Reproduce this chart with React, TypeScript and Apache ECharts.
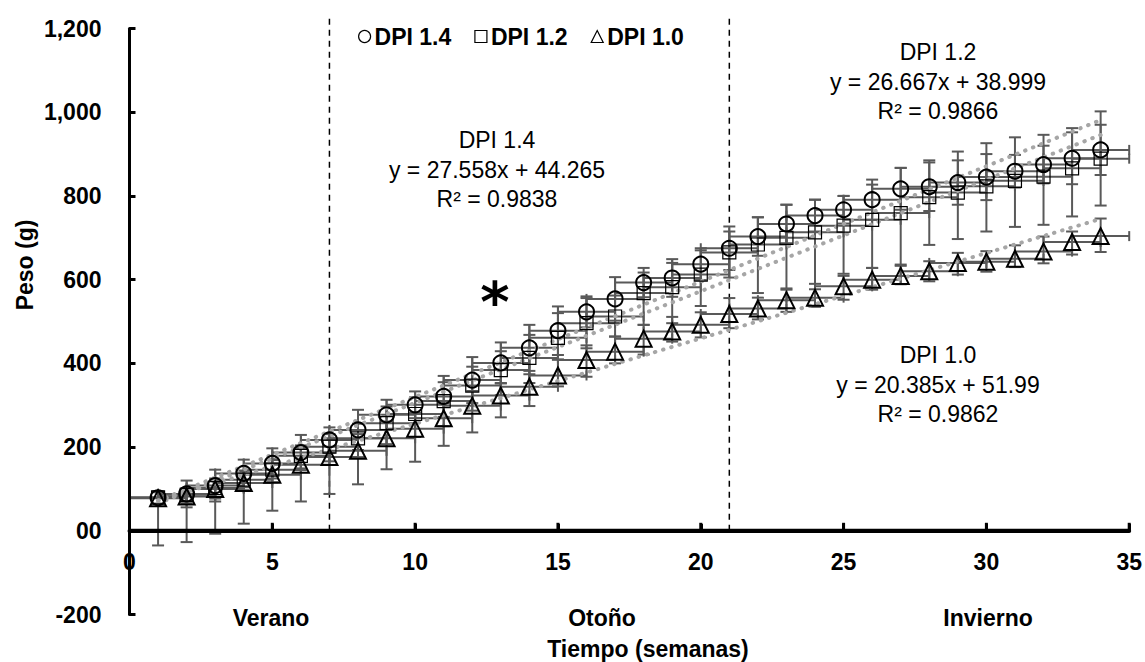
import React, { useEffect, useRef } from "react";
import * as echarts from "echarts";

// ---------- data ----------
const weeks = [1, 2, 3, 4, 5, 6, 7, 8, 9, 10, 11, 12, 13, 14, 15, 16, 17, 18, 19, 20, 21, 22, 23, 24, 25, 26, 27, 28, 29, 30, 31, 32, 33, 34];

const dpi14 = [79, 88, 108, 137, 161, 187, 217, 241, 277, 301, 321, 360, 401, 437, 478, 523, 554, 593, 604, 637, 675, 703, 733, 753, 767, 791, 817, 822, 832, 845, 859, 875, 890, 910];
const dpi14ErrHi = [15, 32, 38, 33, 36, 42, 30, 48, 36, 32, 49, 55, 49, 55, 58, 37, 52, 35, 45, 38, 52, 46, 46, 38, 33, 48, 50, 58, 53, 55, 39, 45, 62, 60];
const dpi14ErrLo = [15, 32, 38, 33, 36, 42, 30, 48, 36, 32, 49, 55, 49, 55, 58, 37, 52, 35, 45, 38, 52, 46, 46, 38, 33, 48, 50, 58, 53, 55, 39, 45, 62, 60];

const dpi12 = [80, 86, 102, 122, 146, 179, 201, 221, 257, 279, 310, 347, 384, 413, 461, 496, 512, 568, 582, 612, 665, 684, 700, 713, 729, 743, 759, 797, 808, 823, 836, 846, 866, 889];
const dpi12ErrHi = [12, 15, 20, 20, 25, 25, 30, 35, 40, 40, 45, 45, 45, 55, 59, 60, 50, 49, 58, 58, 50, 65, 79, 78, 71, 84, 108, 88, 98, 103, 104, 100, 96, 113];
const dpi12ErrLo = [15, 20, 25, 25, 30, 30, 35, 45, 50, 55, 60, 60, 60, 60, 52, 60, 48, 76, 86, 75, 60, 116, 124, 123, 115, 115, 123, 114, 111, 108, 110, 115, 115, 112];

const dpi10 = [78, 82, 100, 114, 134, 158, 176, 191, 221, 244, 269, 299, 323, 344, 371, 408, 428, 459, 476, 492, 518, 531, 551, 557, 584, 600, 609, 620, 640, 643, 650, 667, 690, 704];
const dpi10ErrHi = [15, 20, 25, 30, 35, 40, 45, 40, 40, 38, 35, 35, 30, 30, 38, 35, 36, 33, 35, 30, 38, 26, 28, 20, 25, 28, 24, 24, 24, 25, 32, 36, 25, 42];
const dpi10ErrLo = [113, 109, 107, 97, 86, 88, 88, 80, 74, 79, 66, 64, 52, 46, 26, 40, 28, 38, 24, 30, 34, 26, 28, 22, 32, 24, 20, 24, 28, 24, 20, 28, 30, 38];

const weekErr = 1; // horizontal error (weeks)

const seriesNames = ["DPI 1.4", "DPI 1.2", "DPI 1.0"];
const trendSlopes = [27.558, 26.667, 20.385];
const trendIntercepts = [44.265, 38.999, 51.99];
const trendR2 = ["0.9838", "0.9866", "0.9862"];
const trendRange = [1, 34];

const seasonBounds = [7, 21];
const seasonSpan = [0, 1228];
const seasonNames = ["Verano", "Otoño", "Invierno"];

const yTicks = [-200, 0, 200, 400, 600, 800, 1000, 1200];
const xTicks = [0, 5, 10, 15, 20, 25, 30, 35];

// ---------- styles / layout ----------
const FONT = "'Liberation Sans', Arial, Helvetica, sans-serif";
const BAR = "#595959";
const GRID_TOP = 28.5;
const GRID_BOTTOM = 47.5;
const CHART_H = 662;

export default function App() {
  const ref = useRef<HTMLDivElement>(null);

  useEffect(() => {
    const chart = echarts.init(ref.current as HTMLDivElement, null, { renderer: "svg" });

    const groups = [
      { name: seriesNames[0], vals: dpi14, lo: dpi14ErrLo, hi: dpi14ErrHi, symbol: "circle", size: 15, bw: 2 },
      { name: seriesNames[1], vals: dpi12, lo: dpi12ErrLo, hi: dpi12ErrHi, symbol: "rect", size: 13, bw: 1.2 },
      { name: seriesNames[2], vals: dpi10, lo: dpi10ErrLo, hi: dpi10ErrHi, symbol: "triangle", size: 16, bw: 2 },
    ];

    const plotH = CHART_H - GRID_TOP - GRID_BOTTOM;
    const yMin = yTicks[0];
    const yMax = yTicks[yTicks.length - 1];
    const xMin = xTicks[0];
    const xMax = xTicks[xTicks.length - 1];
    const zeroOffset = -((0 - yMin) / (yMax - yMin)) * plotH;

    const series: any[] = [];

    seasonBounds.forEach((b, bi) => {
      series.push({
        type: "line",
        name: "season" + bi,
        z: 0,
        silent: true,
        clip: false,
        symbol: "none",
        showSymbol: false,
        data: seasonSpan.map((v) => [b, v]),
        lineStyle: { color: "#000", type: [6, 5], width: 1.5 },
      });
    });

    // x axis line drawn on y = 0 (drawn as a series so it sits at the data zero)
    series.push({
      type: "line",
      name: "xZeroLine",
      z: 6,
      silent: true,
      clip: false,
      symbol: "none",
      showSymbol: false,
      data: [[xMin, 0], [xMax, 0]],
      lineStyle: { color: "#000", width: 4, type: "solid", opacity: 1 },
    });
    series.push({
      type: "scatter",
      name: "xZeroTicks",
      z: 6,
      silent: true,
      clip: false,
      symbol: "rect",
      symbolSize: [3, 8],
      symbolOffset: [0, -4],
      data: xTicks.map((t) => [t, 0]),
      itemStyle: { color: "#000", opacity: 1 },
    });

    groups.forEach((g, gi) => {
      series.push({
        type: "custom",
        name: g.name + " err",
        z: 1,
        silent: true,
        data: weeks.map((w, i) => [w, g.vals[i], g.lo[i], g.hi[i], weekErr]),
        encode: { x: 0, y: 1 },
        renderItem: (params: any, api: any) => {
          const x = api.value(0);
          const y = api.value(1);
          const lo = api.value(2);
          const hi = api.value(3);
          const xe = api.value(4);
          const pLo = api.coord([x, y - lo]);
          const pHi = api.coord([x, y + hi]);
          const pL = api.coord([x - xe, y]);
          const pR = api.coord([x + xe, y]);
          const cw = 6;
          const ch = 5;
          const style = { stroke: BAR, lineWidth: 2, fill: null };
          return {
            type: "group",
            children: [
              { type: "line", shape: { x1: pLo[0], y1: pLo[1], x2: pHi[0], y2: pHi[1] }, style },
              { type: "line", shape: { x1: pLo[0] - cw, y1: pLo[1], x2: pLo[0] + cw, y2: pLo[1] }, style },
              { type: "line", shape: { x1: pHi[0] - cw, y1: pHi[1], x2: pHi[0] + cw, y2: pHi[1] }, style },
              { type: "line", shape: { x1: pL[0], y1: pL[1], x2: pR[0], y2: pR[1] }, style },
              { type: "line", shape: { x1: pL[0], y1: pL[1] - ch, x2: pL[0], y2: pL[1] + ch }, style },
              { type: "line", shape: { x1: pR[0], y1: pR[1] - ch, x2: pR[0], y2: pR[1] + ch }, style },
            ],
          };
        },
      });

      series.push({
        type: "line",
        name: g.name + " trend",
        z: 2,
        silent: true,
        showSymbol: false,
        symbol: "none",
        data: trendRange.map((x) => [x, trendSlopes[gi] * x + trendIntercepts[gi]]),
        lineStyle: { color: "#a6a6a6", width: 4, type: [0.5, 8], cap: "round" },
      });
    });

    groups.forEach((g) => {
      series.push({
        type: "scatter",
        name: g.name,
        z: 3,
        symbol: g.symbol,
        symbolSize: g.size,
        data: weeks.map((w, i) => [w, g.vals[i]]),
        itemStyle: { color: "rgba(0,0,0,0)", borderColor: "#000", borderWidth: g.bw, opacity: 1 },
      });
    });

    const annot = (x: number, y: number, lines: string[]) =>
      lines.map((t, i) => ({
        type: "text",
        x,
        y: y + i * 29.5,
        style: { text: t, fontSize: 23, fontFamily: FONT, fill: "#000", align: "center", verticalAlign: "middle" },
      }));

    const eq = (i: number) => [
      seriesNames[i],
      `y = ${trendSlopes[i]}x + ${trendIntercepts[i]}`,
      `R² = ${trendR2[i]}`,
    ];

    const bold = { fontSize: 23, fontWeight: "bold", fontFamily: FONT, fill: "#000", align: "center", verticalAlign: "middle" };

    const option: any = {
      animation: false,
      backgroundColor: "#fff",
      grid: { left: 129.5, right: 14, top: GRID_TOP, bottom: GRID_BOTTOM, containLabel: false },
      legend: {
        left: 353,
        top: 20,
        itemWidth: 12,
        itemHeight: 12,
        itemGap: 23,
        selectedMode: false,
        textStyle: { fontSize: 23, fontWeight: "bold", fontFamily: FONT, color: "#000", padding: [0, 0, 0, -1] },
        data: [
          { name: seriesNames[0], icon: "circle", itemStyle: { color: "rgba(0,0,0,0)", borderColor: "#000", borderWidth: 1.2 } },
          { name: seriesNames[1], icon: "rect", itemStyle: { color: "rgba(0,0,0,0)", borderColor: "#000", borderWidth: 1.2 } },
          { name: seriesNames[2], icon: "triangle", itemStyle: { color: "rgba(0,0,0,0)", borderColor: "#000", borderWidth: 1.2 } },
        ],
      },
      xAxis: {
        type: "value",
        position: "bottom",
        offset: zeroOffset,
        min: xMin,
        max: xMax,
        interval: 5,
        splitLine: { show: false },
        axisLine: { show: true, onZero: false, lineStyle: { color: "#000", width: 4 } },
        axisTick: { show: true, inside: true, length: 7, lineStyle: { color: "#000", width: 3 } },
        axisLabel: { show: true, margin: 20, fontSize: 23, fontWeight: "bold", fontFamily: FONT, color: "#000" },
        z: 5,
      },
      yAxis: {
        type: "value",
        min: yMin,
        max: yMax,
        interval: 200,
        splitLine: { show: false },
        axisLine: { show: true, onZero: false, lineStyle: { color: "#000", width: 3 } },
        axisTick: { show: true, inside: true, length: 6, lineStyle: { color: "#000", width: 3 } },
        axisLabel: {
          margin: 28,
          fontSize: 23,
          fontWeight: "bold",
          fontFamily: FONT,
          color: "#000",
          formatter: (v: number) => (v === 0 ? "00" : v.toLocaleString("en-US")),
        },
        z: 5,
      },
      graphic: [
        ...annot(497, 140, eq(0)),
        ...annot(938, 52, eq(1)),
        ...annot(938, 355, eq(2)),
        { type: "text", x: 495, y: 301, style: { text: "*", fontSize: 56, fontWeight: "bold", fontFamily: "'DejaVu Sans', sans-serif", fill: "#000", align: "center", verticalAlign: "middle" } },
        { type: "text", x: 271, y: 618, style: { ...bold, text: seasonNames[0] } },
        { type: "text", x: 602, y: 618, style: { ...bold, text: seasonNames[1] } },
        { type: "text", x: 988, y: 618, style: { ...bold, text: seasonNames[2] } },
        { type: "text", x: 648, y: 649, style: { ...bold, text: "Tiempo (semanas)" } },
        { type: "text", x: 25, y: 265, rotation: Math.PI / 2, style: { ...bold, text: "Peso (g)" } },
      ],
      series,
    };

    chart.setOption(option);
    return () => chart.dispose();
  }, []);

  return <div ref={ref} style={{ position: "fixed", left: 0, top: 0, width: 1145, height: 662, background: "#fff" }} />;
}
